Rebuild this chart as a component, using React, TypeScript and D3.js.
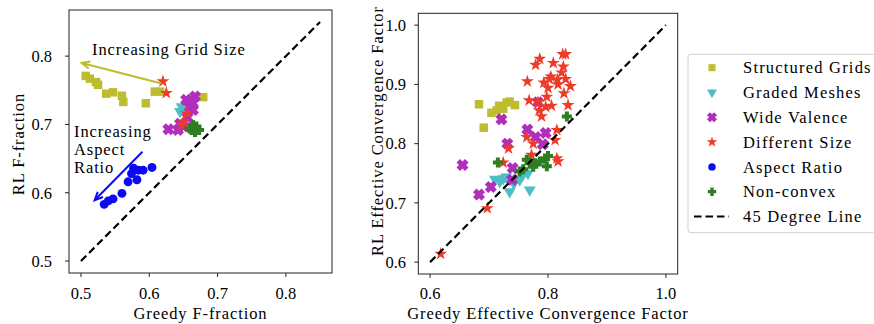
import React from "react";
import * as d3 from "d3";

// ---------- Left plot data (Greedy F-fraction vs RL F-fraction) ----------
const leftStructured: [number, number][] = [
  [0.507, 0.771], [0.513, 0.767], [0.522, 0.762], [0.525, 0.758], [0.537, 0.745],
  [0.547, 0.747], [0.56, 0.742], [0.562, 0.733], [0.595, 0.731], [0.608, 0.748],
  [0.616, 0.748], [0.679, 0.74],
];
const leftGraded: [number, number][] = [
  [0.6475, 0.726], [0.652, 0.719], [0.645, 0.719], [0.657, 0.73],
];
const leftWide: [number, number][] = [
  [0.654, 0.736], [0.667, 0.741], [0.664, 0.731], [0.659, 0.726], [0.664, 0.721],
  [0.656, 0.71], [0.645, 0.701], [0.628, 0.693], [0.642, 0.692], [0.65, 0.697],
];
const leftDifferent: [number, number][] = [
  [0.62, 0.763], [0.625, 0.746], [0.655, 0.716], [0.65, 0.704], [0.648, 0.699],
];
const leftAspect: [number, number][] = [
  [0.534, 0.583], [0.54, 0.588], [0.547, 0.591], [0.56, 0.599], [0.569, 0.616],
  [0.582, 0.619], [0.574, 0.628], [0.577, 0.636], [0.584, 0.633], [0.591, 0.633],
  [0.604, 0.637],
];
const leftNonconvex: [number, number][] = [
  [0.664, 0.699], [0.669, 0.697], [0.662, 0.692], [0.667, 0.689], [0.659, 0.694],
  [0.673, 0.692],
];

// ---------- Right plot data (Effective convergence factor) ----------
const rightStructured: [number, number][] = [
  [0.683, 0.8665], [0.691, 0.827], [0.704, 0.852], [0.713, 0.856], [0.721, 0.8625],
  [0.73, 0.8695], [0.735, 0.871], [0.744, 0.865], [0.724, 0.859], [0.717, 0.864],
];
const rightGraded: [number, number][] = [
  [0.71, 0.74], [0.718, 0.736], [0.729, 0.744], [0.735, 0.719], [0.752, 0.739],
  [0.766, 0.75], [0.769, 0.722], [0.742, 0.733], [0.724, 0.741], [0.757, 0.747],
];
const rightWide: [number, number][] = [
  [0.655, 0.764], [0.683, 0.714], [0.703, 0.727], [0.721, 0.841], [0.731, 0.8],
  [0.74, 0.759], [0.739, 0.739], [0.765, 0.824], [0.779, 0.811], [0.783, 0.87],
  [0.791, 0.799], [0.796, 0.818],
];
const rightDifferent: [number, number][] = [
  [0.786, 0.943], [0.779, 0.933], [0.809, 0.936], [0.825, 0.951], [0.83, 0.951],
  [0.826, 0.93], [0.823, 0.92], [0.765, 0.905], [0.793, 0.903], [0.802, 0.909],
  [0.805, 0.913], [0.8, 0.894], [0.816, 0.908], [0.817, 0.9], [0.83, 0.909],
  [0.838, 0.897], [0.827, 0.885], [0.768, 0.873], [0.798, 0.879], [0.783, 0.87],
  [0.796, 0.862], [0.806, 0.864], [0.785, 0.856], [0.789, 0.846], [0.834, 0.865],
  [0.815, 0.823], [0.764, 0.811], [0.775, 0.8], [0.733, 0.792], [0.724, 0.768],
  [0.772, 0.781], [0.815, 0.775], [0.817, 0.77], [0.812, 0.806], [0.697, 0.691],
  [0.618, 0.614],
];
const rightNonconvex: [number, number][] = [
  [0.715, 0.768], [0.764, 0.773], [0.769, 0.767], [0.778, 0.767], [0.786, 0.77],
  [0.795, 0.775], [0.8, 0.779], [0.798, 0.762], [0.832, 0.846], [0.752, 0.753],
  [0.758, 0.757], [0.775, 0.761],
];

// ---------- Ticks, labels ----------
const leftTicks = [0.5, 0.6, 0.7, 0.8];
const rightXTicks = [0.6, 0.8, 1.0];
const rightYTicks = [0.6, 0.7, 0.8, 0.9, 1.0];
const leftLine: [number, number] = [0.5, 0.85];
const rightLine: [number, number] = [0.6, 1.0];
const legendLabels = [
  "Structured Grids", "Graded Meshes", "Wide Valence", "Different Size",
  "Aspect Ratio", "Non-convex", "45 Degree Line",
];
// annotation arrows (data coords): [from, to]
const gridArrow: [[number, number], [number, number]] = [[0.618, 0.76], [0.501, 0.79]];
const aspectArrow: [[number, number], [number, number]] = [[0.59, 0.66], [0.52, 0.589]];

const FONT = "'Liberation Serif', 'DejaVu Serif', serif";
const FS = 16.5;
const LS = 0.9;

type Kind = "square" | "tri" | "x" | "star" | "circle" | "plus";
const series: { kind: Kind; color: string }[] = [
  { kind: "square", color: "#bcbd2f" },
  { kind: "tri", color: "#4bbec6" },
  { kind: "x", color: "#b02ebd" },
  { kind: "star", color: "#ee3a27" },
  { kind: "circle", color: "#0a0af5" },
  { kind: "plus", color: "#2e7d22" },
];

function plusPath(e: number, h: number): string {
  const p = d3.path();
  const pts = [
    [-h, -e], [h, -e], [h, -h], [e, -h], [e, h], [h, h], [h, e], [-h, e], [-h, h], [-e, h], [-e, -h], [-h, -h],
  ];
  pts.forEach((q, i) => (i === 0 ? p.moveTo(q[0], q[1]) : p.lineTo(q[0], q[1])));
  p.closePath();
  return p.toString();
}

function markerPath(kind: Kind, scale = 1): string {
  const s = (a: number) => a * scale;
  const l = Math.sqrt(scale);
  switch (kind) {
    case "square": return d3.symbol(d3.symbolSquare, s(72))()!;
    case "tri": return d3.symbol(d3.symbolTriangle, s(62))()!;
    case "x": return plusPath(6 * l, 2.5 * l);
    case "star": return d3.symbol(d3.symbolStar, s(52))()!;
    case "circle": return d3.symbol(d3.symbolCircle, s(62))()!;
    case "plus": return plusPath(5 * l, 2 * l);
  }
}
function markerRot(kind: Kind) {
  if (kind === "tri") return " rotate(180)";
  if (kind === "x") return " rotate(45)";
  return "";
}

function Marker({ kind, color, x, y, scale = 1 }: { kind: Kind; color: string; x: number; y: number; scale?: number }) {
  return <path d={markerPath(kind, scale)} transform={`translate(${x},${y})${markerRot(kind)}`} fill={color} />;
}

function Arrow({ x1, y1, x2, y2, color }: { x1: number; y1: number; x2: number; y2: number; color: string }) {
  const ang = Math.atan2(y2 - y1, x2 - x1);
  const L = 9, a = 0.42;
  const p1 = [x2 - L * Math.cos(ang - a), y2 - L * Math.sin(ang - a)];
  const p2 = [x2 - L * Math.cos(ang + a), y2 - L * Math.sin(ang + a)];
  return (
    <g stroke={color} strokeWidth={2} fill="none" strokeLinecap="butt">
      <line x1={x1} y1={y1} x2={x2} y2={y2} />
      <polyline points={`${p1[0]},${p1[1]} ${x2},${y2} ${p2[0]},${p2[1]}`} />
    </g>
  );
}

function Panel({
  x, y, xTicks, yTicks, data, line, xLabel, yLabel, yLabelX, yLabelY, yTickRight, children,
}: {
  x: d3.ScaleLinear<number, number>; y: d3.ScaleLinear<number, number>;
  xTicks: number[]; yTicks: number[]; data: [number, number][][]; line: [number, number];
  xLabel: string; yLabel: string; yLabelX: number; yLabelY: number; yTickRight: number; children?: React.ReactNode;
}) {
  const [x0, x1] = x.range();
  const [y0, y1] = y.range();
  const lineGen = d3.line<number>().x((d) => x(d)).y((d) => y(d));
  return (
    <g>
      <g>
        {data.map((pts, si) =>
          pts.map((p, i) => (
            <Marker key={`${si}-${i}`} kind={series[si].kind} color={series[si].color} x={x(p[0])} y={y(p[1])} />
          ))
        )}
      </g>
      <path d={lineGen(line)!} stroke="#000" strokeWidth={2.2} strokeDasharray="7.5,4" fill="none" />
      {children}
      <rect x={x0} y={y1} width={x1 - x0} height={y0 - y1} fill="none" stroke="#222" strokeWidth={1} />
      {xTicks.map((t) => (
        <g key={t}>
          <line x1={x(t)} x2={x(t)} y1={y0} y2={y0 + 4} stroke="#222" strokeWidth={1} />
          <text x={x(t)} y={299} textAnchor="middle" fontFamily={FONT} fontSize={FS}>{t.toFixed(1)}</text>
        </g>
      ))}
      {yTicks.map((t) => (
        <g key={t}>
          <line x1={x0} x2={x0 - 4} y1={y(t)} y2={y(t)} stroke="#222" strokeWidth={1} />
          <text x={yTickRight} y={y(t)} dy="0.35em" textAnchor="end" fontFamily={FONT} fontSize={FS}>{t.toFixed(1)}</text>
        </g>
      ))}
      <text x={(x0 + x1) / 2} y={319} textAnchor="middle" fontFamily={FONT} fontSize={FS} letterSpacing={LS}>{xLabel}</text>
      <text transform={`translate(${yLabelX},${yLabelY}) rotate(-90)`} textAnchor="middle" fontFamily={FONT} fontSize={FS} letterSpacing={LS} dy="0.35em">{yLabel}</text>
    </g>
  );
}

export default function App() {
  const lx = d3.scaleLinear().domain([0.4825, 0.8675]).range([69, 332]);
  const ly = d3.scaleLinear().domain([0.4825, 0.8675]).range([273, 10]);
  const rx = d3.scaleLinear().domain([0.58, 1.02]).range([418.3, 677.7]);
  const ry = d3.scaleLinear().domain([0.58, 1.02]).range([274, 13.3]);

  const legendTop = 54.3;
  const legendRow = 24.8;

  return (
    <svg width={874} height={324} style={{ position: "absolute", left: 0, top: 0, background: "#fff" }}>
      <Panel
        x={lx} y={ly} xTicks={leftTicks} yTicks={leftTicks}
        data={[leftStructured, leftGraded, leftWide, leftDifferent, leftAspect, leftNonconvex]}
        line={leftLine} xLabel="Greedy F-fraction" yLabel="RL F-fraction" yLabelX={18} yLabelY={144} yTickRight={52}
      >
        <Arrow x1={lx(gridArrow[0][0])} y1={ly(gridArrow[0][1])} x2={lx(gridArrow[1][0])} y2={ly(gridArrow[1][1])} color="#bcbd2f" />
        <Arrow x1={lx(aspectArrow[0][0])} y1={ly(aspectArrow[0][1])} x2={lx(aspectArrow[1][0])} y2={ly(aspectArrow[1][1])} color="#0a0af5" />
        <text x={92} y={55} fontFamily={FONT} fontSize={FS} letterSpacing={LS}>Increasing Grid Size</text>
        <text fontFamily={FONT} fontSize={FS} letterSpacing={LS}>
          <tspan x={74} y={137}>Increasing</tspan>
          <tspan x={74} y={155}>Aspect</tspan>
          <tspan x={74} y={173}>Ratio</tspan>
        </text>
      </Panel>
      <Panel
        x={rx} y={ry} xTicks={rightXTicks} yTicks={rightYTicks}
        data={[rightStructured, rightGraded, rightWide, rightDifferent, [], rightNonconvex]}
        line={rightLine} xLabel="Greedy Effective Convergence Factor" yLabel="RL Effective Convergence Factor"
        yLabelX={377} yLabelY={131} yTickRight={406}
      />
      <g>
        <rect x={688} y={legendTop} width={200} height={178.4} rx={3} fill="#fff" stroke="#d0d0d0" strokeWidth={1} />
        {legendLabels.map((lab, i) => {
          const cy = 67.7 + i * legendRow;
          return (
            <g key={lab}>
              {i < 6 ? (
                <Marker kind={series[i].kind} color={series[i].color} x={712} y={cy} scale={0.7} />
              ) : (
                <line x1={694} x2={729} y1={cy} y2={cy} stroke="#000" strokeWidth={2.2} strokeDasharray="7.5,4" />
              )}
              <text x={743} y={cy} dy="0.35em" fontFamily={FONT} fontSize={FS} letterSpacing={1.2}>{lab}</text>
            </g>
          );
        })}
      </g>
    </svg>
  );
}
